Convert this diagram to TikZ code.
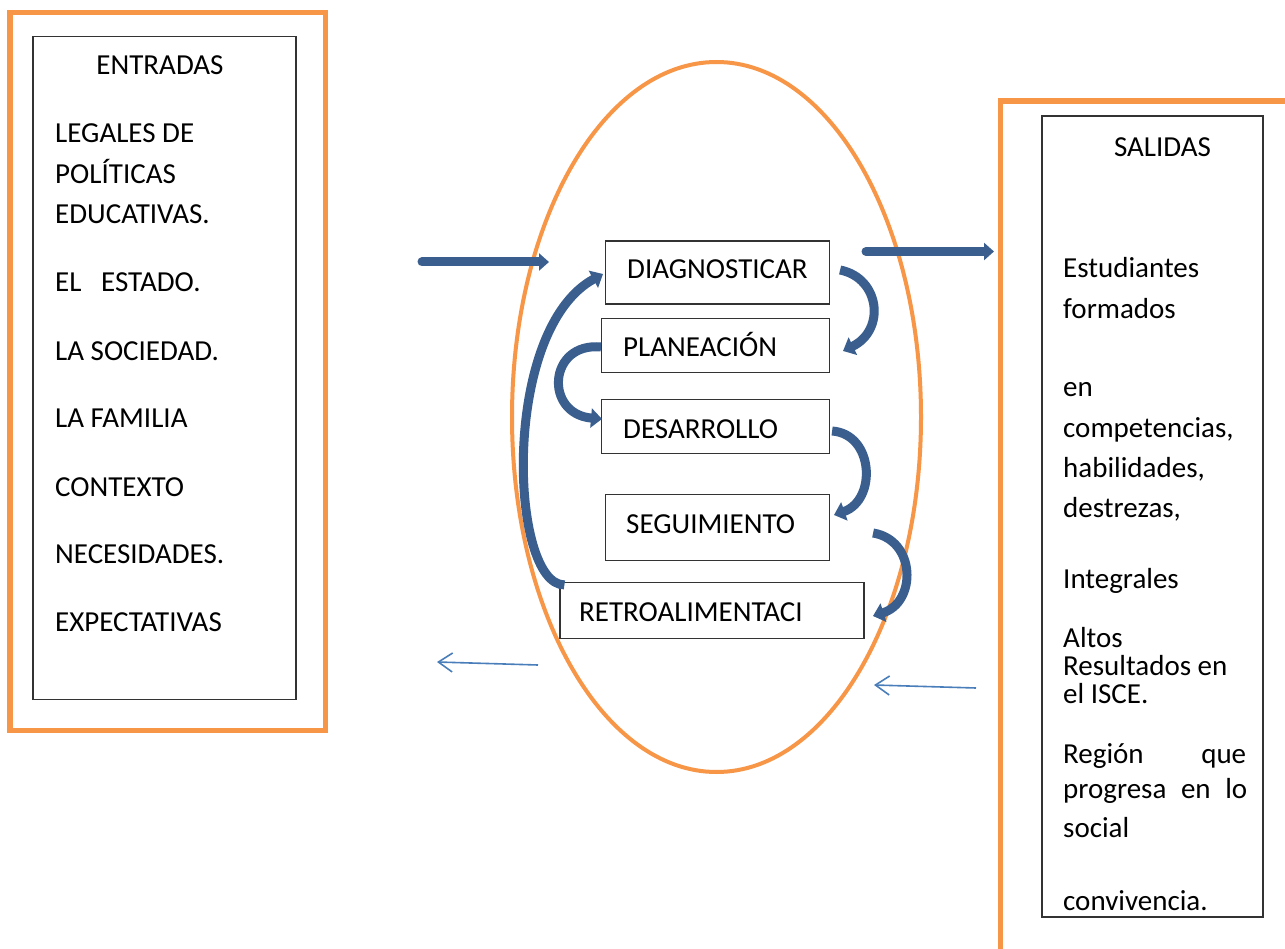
\documentclass[tikz,border=0pt]{standalone}
\usepackage{fontspec}
\setmainfont{Carlito}
\usetikzlibrary{arrows.meta}
\definecolor{frameorange}{HTML}{F79646}
\definecolor{arrowblue}{HTML}{3A5F8E}
\definecolor{thinblue}{HTML}{4A7EBB}
\definecolor{boxline}{HTML}{333333}
\tikzset{
  orangeframe/.style={draw=frameorange, line width=5.5pt},
  blackbox/.style={draw=boxline, line width=1.2pt, rectangle, inner sep=0pt},
  txt/.style={anchor=base west, inner sep=0pt, font=\fontsize{29}{35}\selectfont},
  ctxt/.style={anchor=base, inner sep=0pt, font=\fontsize{29}{35}\selectfont},
  thickarrow/.style={draw=arrowblue, line width=9pt, line cap=round, -{Triangle[length=10pt,width=17pt]}},
  curvearrow/.style={draw=arrowblue, line width=9pt, -{Triangle[length=11pt,width=19pt]}},
  thinarrow/.style={draw=thinblue, line width=1.6pt, -{Straight Barb[length=14pt,width=19pt,line width=1.6pt]}},
}
\begin{document}
\begin{tikzpicture}[x=1pt,y=-1pt]
\useasboundingbox (0,0) rectangle (1285,949);
\fill[white] (0,0) rectangle (1285,949);

% left frame
\draw[orangeframe] (10,12.5) rectangle (325.5,730.5);
\node[blackbox, minimum width=263pt, minimum height=663pt] (inbox) at (164.5,368) {};
\node[ctxt] (entradas) at (160,75) {ENTRADAS};
\node[txt] (e1) at (55,143) {LEGALES DE};
\node[txt] (e2) at (55,184) {POLÍTICAS};
\node[txt] (e3) at (55,224) {EDUCATIVAS.};
\node[txt] (e4) at (55,292) {EL\ \ \ ESTADO.};
\node[txt] (e5) at (55,361) {LA SOCIEDAD.};
\node[txt] (e6) at (55,427) {LA FAMILIA};
\node[txt] (e7) at (55,496) {CONTEXTO};
\node[txt] (e8) at (55,563) {NECESIDADES.};
\node[txt] (e9) at (55,631) {EXPECTATIVAS};

% right frame
\draw[orangeframe] (1285,101) -- (1000.5,101) -- (1000.5,949);
\node[blackbox, minimum width=221pt, minimum height=801pt] (outbox) at (1152.5,516.5) {};
\node[ctxt] (salidas) at (1162.5,157) {SALIDAS};
\node[txt] (s1) at (1063,278) {Estudiantes};
\node[txt] (s2) at (1063,319) {formados};
\node[txt] (s3) at (1063,397) {en};
\node[txt] (s4) at (1063,437) {competencias,};
\node[txt] (s5) at (1063,477) {habilidades,};
\node[txt] (s6) at (1063,517) {destrezas,};
\node[txt] (s7) at (1063,588) {Integrales};
\node[txt] (s8) at (1063,647) {Altos};
\node[txt] (s9) at (1063,675) {Resultados en};
\node[txt] (s10) at (1063,703) {el ISCE.};
\node[txt] (s11) at (1063,763) {\makebox[183pt][l]{Región\hfill que}};
\node[txt] (s12) at (1063,798) {\makebox[184pt][s]{progresa en lo}};
\node[txt] (s13) at (1063,837) {social};
\node[txt] (s14) at (1063,910) {convivencia.};

% ellipse
\draw[frameorange, line width=4pt] (716.5,417) ellipse [x radius=204.5, y radius=355];

% process boxes
\node[blackbox, minimum width=224pt, minimum height=63pt] (diag) at (717.5,272.5) {};
\node[blackbox, minimum width=228pt, minimum height=54pt] (plan) at (715.5,345.5) {};
\node[blackbox, minimum width=228pt, minimum height=54pt] (desa) at (715.5,426.5) {};
\node[blackbox, minimum width=224pt, minimum height=66pt] (segu) at (717.5,527.5) {};
\node[blackbox, minimum width=304pt, minimum height=56pt] (retro) at (712,610.5) {};
\node[txt] (tdiag) at (627,279) {DIAGNOSTICAR};
\node[txt] (tplan) at (623,357) {PLANEACIÓN};
\node[txt] (tdesa) at (623,438) {DESARROLLO};
\node[txt] (tsegu) at (626,533) {SEGUIMIENTO};
\node[txt] (tretro) at (579,621) {RETROALIMENTACI};

% straight thick arrows
\coordinate (inA) at (422,262);
\coordinate (inB) at (549,262);
\draw[thickarrow] (inA) -- (inB);
\coordinate (outA) at (866,251.5);
\coordinate (outB) at (994,251.5);
\draw[thickarrow] (outA) -- (outB);

% curved arrows between boxes
\coordinate (c1a) at ([xshift=10pt]diag.east |- 0,270);
\draw[curvearrow] (diag.east |- 0,270) ++(10,0) .. controls (880,278) and (886,330) .. (843,351);
\draw[curvearrow] (plan.west |- 0,347) .. controls (548,342) and (544,414) .. (602,419);
\draw[curvearrow] (desa.east |- 0,431) ++(2,0) .. controls (874,434) and (877,500) .. (834,515);
\draw[curvearrow] (segu.east |- 0,533) ++(43,0) .. controls (916,540) and (917,602) .. (873,616);
\draw[curvearrow] (retro.north west) ++(5,3) .. controls (510,585) and (500,330) .. (603,274);

% thin arrows
\coordinate (t1a) at (538,665);
\coordinate (t1b) at (437,662);
\draw[thinarrow] (t1a) -- (t1b);
\coordinate (t2a) at (976,688);
\coordinate (t2b) at (874,685);
\draw[thinarrow] (t2a) -- (t2b);
\end{tikzpicture}
\end{document}
